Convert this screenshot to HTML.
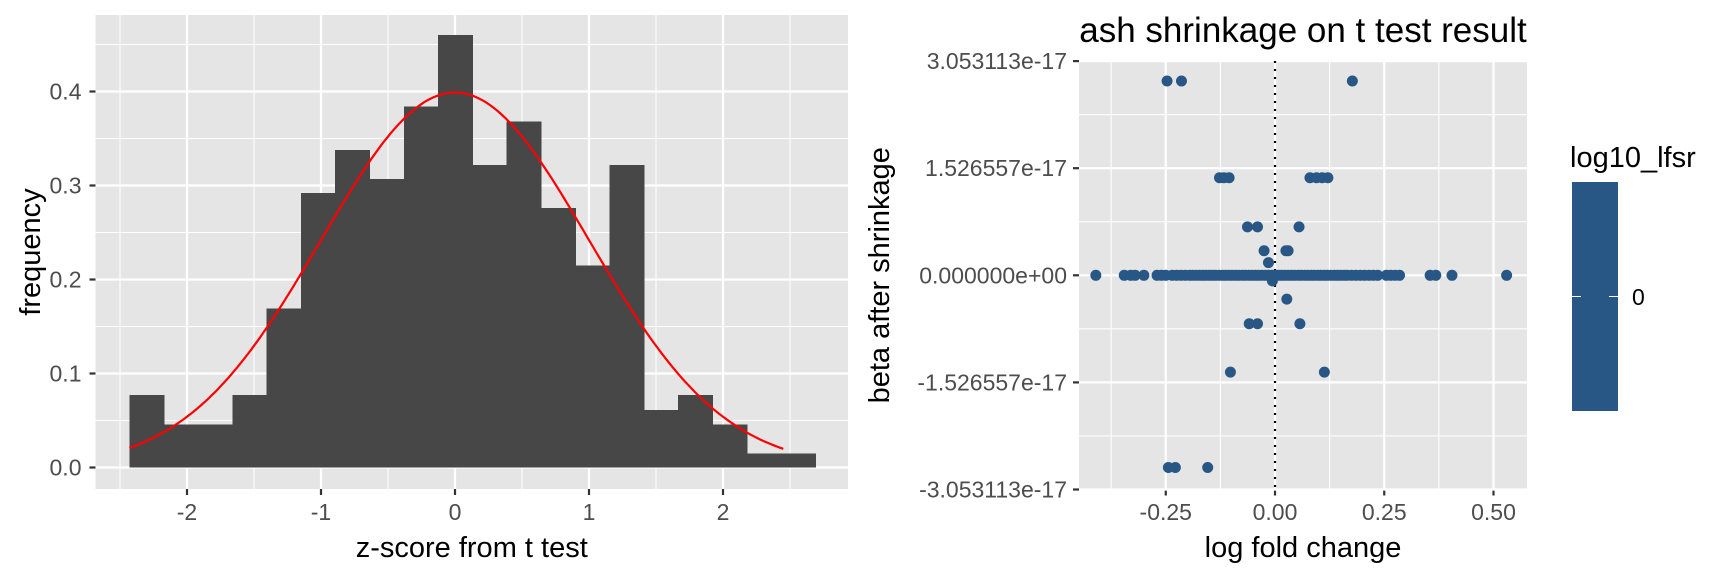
<!DOCTYPE html>
<html><head><meta charset="utf-8"><style>
body{margin:0;background:#fff;}
svg{display:block;font-family:"Liberation Sans",sans-serif;}
</style></head><body>
<svg id="chart" width="1728" height="576" viewBox="0 0 1728 576" xmlns="http://www.w3.org/2000/svg">
<g id="hist"></g>
<g id="scat"></g>
</svg>
<script>
// Histogram data
const histStart = -2.43;
const histBinWidth = 0.256;
const histHeights = [0.077,0.046,0.046,0.077,0.169,0.292,0.338,0.307,0.384,0.46,0.322,0.368,0.276,0.215,0.322,0.061,0.077,0.046,0.015,0.015];
const histXTicks = [-2,-1,0,1,2];
const histYTicks = [0,0.1,0.2,0.3,0.4];
const histYTickLabels = ["0.0","0.1","0.2","0.3","0.4"];
const normMean = [0];
const normSd = [1];
const normRange = [-2.43, 2.45];

// Scatter data (y in units of 1e-17)
const scatX = [
-0.41,-0.345,-0.33,-0.32,-0.30,-0.27,-0.26,-0.25,-0.235,-0.225,-0.215,-0.205,-0.195,-0.188,-0.18,-0.172,-0.165,-0.158,-0.15,-0.143,-0.136,-0.128,-0.12,-0.113,-0.105,-0.098,-0.09,-0.083,-0.075,-0.068,-0.06,-0.053,-0.045,-0.038,-0.03,-0.022,-0.015,-0.008,0.0,0.008,0.015,0.022,0.03,0.038,0.045,0.053,0.06,0.068,0.075,0.083,0.09,0.098,0.105,0.113,0.12,0.128,0.136,0.143,0.15,0.158,0.165,0.175,0.185,0.195,0.205,0.215,0.225,0.235,0.255,0.265,0.275,0.285,0.355,0.368,0.405,0.53,
-0.247,-0.214,0.177,
-0.127,-0.117,-0.105,0.080,0.095,0.108,0.121,
-0.063,-0.040,0.055,
-0.025,0.025,0.030,
-0.015,
-0.006,
0.027,
-0.059,-0.040,0.057,
-0.102,0.113,
-0.244,-0.228,-0.154];
const scatY = [
0,0,0,0,0,0,0,0,0,0,0,0,0,0,0,0,0,0,0,0,0,0,0,0,0,0,0,0,0,0,0,0,0,0,0,0,0,0,0,0,0,0,0,0,0,0,0,0,0,0,0,0,0,0,0,0,0,0,0,0,0,0,0,0,0,0,0,0,0,0,0,0,0,0,0,0,
2.77,2.77,2.77,
1.39,1.39,1.39,1.39,1.39,1.39,1.39,
0.69,0.69,0.69,
0.35,0.35,0.35,
0.18,
-0.08,
-0.34,
-0.69,-0.69,-0.69,
-1.38,-1.38,
-2.74,-2.74,-2.74];
const scatXTicks = [-0.25,0,0.25,0.5];
const scatXTickLabels = ["-0.25","0.00","0.25","0.50"];
const scatYTicks = [3.053113,1.526557,0,-1.526557,-3.053113];
const scatYTickLabels = ["3.053113e-17","1.526557e-17","0.000000e+00","-1.526557e-17","-3.053113e-17"];

const NS="http://www.w3.org/2000/svg";
const BG='#e5e5e5', TICKF=23, TITLEF=29;
function mk(parent,tag,attrs,text){const e=document.createElementNS(NS,tag);for(const k in attrs)e.setAttribute(k,attrs[k]);if(text!==undefined)e.textContent=text;parent.appendChild(e);return e;}

// ---------- Histogram ----------
const H=document.getElementById('hist');
const hp={l:95.5,r:848,t:15,b:489};
const hx=v=>455+v*134;
const hy=v=>467.5-v*940;
let e=mk(H,'rect',{x:hp.l,y:hp.t,width:hp.r-hp.l,height:hp.b-hp.t,fill:BG});

for(let v=-2.5;v<=2.6;v+=1){const x=hx(v);if(x>hp.l&&x<hp.r){e=mk(H,'line',{x1:x,x2:x,y1:hp.t,y2:hp.b,stroke:'#fff','stroke-width':1.1});}}
for(let v=0.05;v<0.5;v+=0.1){const y=hy(v);if(y>hp.t){e=mk(H,'line',{x1:hp.l,x2:hp.r,y1:y,y2:y,stroke:'#fff','stroke-width':1.1});}}
histXTicks.forEach(v=>{const x=hx(v);e=mk(H,'line',{x1:x,x2:x,y1:hp.t,y2:hp.b,stroke:'#fff','stroke-width':2.2});
 e=mk(H,'line',{x1:x,x2:x,y1:hp.b,y2:hp.b+6,stroke:'#333','stroke-width':2.2});
 e=mk(H,'text',{x:x,y:520,'text-anchor':'middle','font-size':TICKF,fill:'#4d4d4d'},String(v));});
histYTicks.forEach((v,i)=>{const y=hy(v);e=mk(H,'line',{x1:hp.l,x2:hp.r,y1:y,y2:y,stroke:'#fff','stroke-width':2.2});
 e=mk(H,'line',{x1:hp.l-6,x2:hp.l,y1:y,y2:y,stroke:'#333','stroke-width':2.2});
 e=mk(H,'text',{x:hp.l-14,y:y+8,'text-anchor':'end','font-size':TICKF,fill:'#4d4d4d'},histYTickLabels[i]);});
histHeights.forEach((h,i)=>{const x0=hx(histStart+i*histBinWidth),x1=hx(histStart+(i+1)*histBinWidth);
 e=mk(H,'rect',{x:x0,y:hy(h),width:x1-x0+0.6,height:hy(0)-hy(h),fill:'#474747','shape-rendering':'crispEdges'});});
let pts=[];for(let k=0;k<=200;k++){const v=normRange[0]+(normRange[1]-normRange[0])*k/200;const d=Math.exp(-0.5*((v-normMean[0])/normSd[0])**2)/(normSd[0]*Math.sqrt(2*Math.PI));pts.push(hx(v).toFixed(1)+','+hy(d).toFixed(1));}
e=mk(H,'polyline',{points:pts.join(' '),fill:'none',stroke:'#ff0000','stroke-width':2.2});
e=mk(H,'text',{x:(hp.l+hp.r)/2,y:557,'text-anchor':'middle','font-size':TITLEF,fill:'#000'},'z-score from t test');
e=mk(H,'text',{x:0,y:0,'text-anchor':'middle','font-size':TITLEF,fill:'#000',transform:'translate(40,'+((hp.t+hp.b)/2)+') rotate(-90)'},'frequency');

// ---------- Scatter ----------
const S=document.getElementById('scat');
const sp={l:1079,r:1527,t:61,b:489.5};
const sx=v=>1275+v*437;
const sy=v=>275.3-v*(214.2/3.053113);
e=mk(S,'rect',{x:sp.l,y:sp.t,width:sp.r-sp.l,height:sp.b-sp.t,fill:BG});
[-0.375,-0.125,0.125,0.375].forEach(v=>{const x=sx(v);e=mk(S,'line',{x1:x,x2:x,y1:sp.t,y2:sp.b,stroke:'#fff','stroke-width':1.1});});
[2.28984,0.763278,-0.763278,-2.28984].forEach(v=>{const y=sy(v);e=mk(S,'line',{x1:sp.l,x2:sp.r,y1:y,y2:y,stroke:'#fff','stroke-width':1.1});});
scatXTicks.forEach((v,i)=>{const x=sx(v);e=mk(S,'line',{x1:x,x2:x,y1:sp.t,y2:sp.b,stroke:'#fff','stroke-width':2.2});
 e=mk(S,'line',{x1:x,x2:x,y1:sp.b,y2:sp.b+6,stroke:'#333','stroke-width':2.2});
 e=mk(S,'text',{x:x,y:520,'text-anchor':'middle','font-size':TICKF,fill:'#4d4d4d'},scatXTickLabels[i]);});
scatYTicks.forEach((v,i)=>{const y=sy(v);e=mk(S,'line',{x1:sp.l,x2:sp.r,y1:y,y2:y,stroke:'#fff','stroke-width':2.2});
 e=mk(S,'line',{x1:sp.l-6,x2:sp.l,y1:y,y2:y,stroke:'#333','stroke-width':2.2});
 e=mk(S,'text',{x:sp.l-12,y:y+8,'text-anchor':'end','font-size':TICKF,fill:'#4d4d4d'},scatYTickLabels[i]);});
e=mk(S,'line',{x1:sx(0),x2:sx(0),y1:sp.t,y2:sp.b,stroke:'#000','stroke-width':2.2,'stroke-dasharray':'2 6'});
scatX.forEach((v,i)=>{e=mk(S,'circle',{cx:sx(v),cy:sy(scatY[i]),r:5.5,fill:'#285786'});});
e=mk(S,'text',{x:(sp.l+sp.r)/2,y:42,'text-anchor':'middle','font-size':35,fill:'#000'},'ash shrinkage on t test result');
e=mk(S,'text',{x:(sp.l+sp.r)/2,y:557,'text-anchor':'middle','font-size':TITLEF,fill:'#000'},'log fold change');
e=mk(S,'text',{x:0,y:0,'text-anchor':'middle','font-size':TITLEF,fill:'#000',transform:'translate(889,'+((sp.t+sp.b)/2)+') rotate(-90)'},'beta after shrinkage');
// Legend
e=mk(S,'text',{x:1570,y:167,'font-size':TITLEF,fill:'#000'},'log10_lfsr');
e=mk(S,'rect',{x:1572,y:182,width:46,height:229,fill:'#285786'});
e=mk(S,'line',{x1:1572,x2:1581,y1:296.5,y2:296.5,stroke:'#fff','stroke-width':1});
e=mk(S,'line',{x1:1609,x2:1618,y1:296.5,y2:296.5,stroke:'#fff','stroke-width':1});
e=mk(S,'text',{x:1632,y:305,'font-size':TICKF,fill:'#000'},'0');
</script>
</body></html>
